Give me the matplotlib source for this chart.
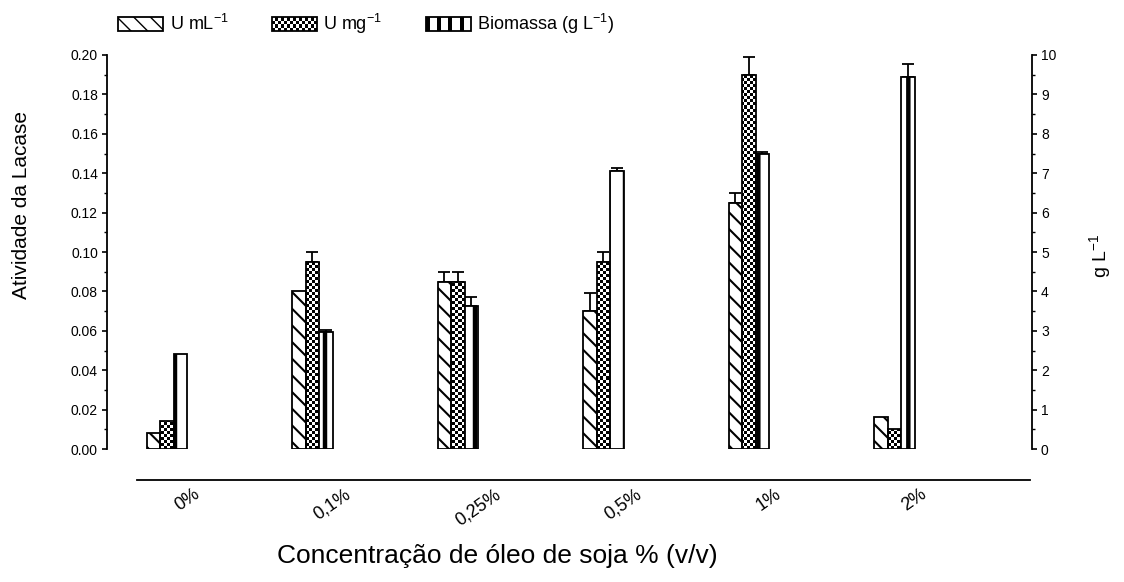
import numpy as np
import matplotlib
matplotlib.use("Agg")
import matplotlib.pyplot as plt
import matplotlib.transforms as mtransforms
from matplotlib.patches import Rectangle
from matplotlib.legend_handler import HandlerBase

plt.rcParams["font.family"] = ["Liberation Sans", "DejaVu Sans"]
plt.rcParams["mathtext.fontset"] = "custom"
plt.rcParams["mathtext.rm"] = "Liberation Sans"
plt.rcParams["mathtext.it"] = "Liberation Sans:italic"
plt.rcParams["mathtext.bf"] = "Liberation Sans:bold"

# ---- data -------------------------------------------------------------
categories = ["0%", "0,1%", "0,25%", "0,5%", "1%", "2%"]
u_ml = [0.008, 0.080, 0.085, 0.070, 0.125, 0.016]
u_ml_err = [0.0, 0.0, 0.005, 0.009, 0.005, 0.0]
u_mg = [0.014, 0.095, 0.085, 0.095, 0.190, 0.010]
u_mg_err = [0.0, 0.005, 0.005, 0.005, 0.009, 0.0]
biomass = [2.40, 2.97, 3.62, 7.05, 7.50, 9.45]
biomass_err = [0.0, 0.05, 0.25, 0.08, 0.05, 0.33]

series_labels = ["U mL$^{-1}$", "U mg$^{-1}$", "Biomassa (g L$^{-1}$)"]

# ---- figure -----------------------------------------------------------
fig = plt.figure(figsize=(11.24, 5.82), dpi=100)
ax = fig.add_axes([0.0952, 0.2285, 0.8229, 0.677])
ax2 = ax.twinx()

x = np.arange(len(categories))
w = 0.093
xlim = (-0.412, 5.945)
ylim = (0.0, 0.20)
ylim2 = (0.0, 10.0)
edge_lw = 1.3
diag_hatch = "\\\\"
stripe_hatch = "|"


def upper_err(axis, xs, ys, errs):
    xs = np.asarray(xs, float)
    ys = np.asarray(ys, float)
    errs = np.asarray(errs, float)
    m = errs > 0
    axis.errorbar(xs[m], ys[m], yerr=[np.zeros(m.sum()), errs[m]], fmt="none",
                  ecolor="black", elinewidth=1.3, capsize=4, capthick=1.3, zorder=1)


# U mL-1 : diagonal hatch
with plt.rc_context({"hatch.linewidth": 1.5}):
    b1 = ax.bar(x - w, u_ml, w, facecolor="white", edgecolor="black",
                linewidth=edge_lw, hatch=diag_hatch, zorder=2)
upper_err(ax, x - w, u_ml, u_ml_err)

# U mg-1 : checkerboard fill clipped to each bar
b2 = ax.bar(x, u_mg, w, facecolor="none", edgecolor="black",
            linewidth=edge_lw, zorder=2)
nx, ny = 308, 131
checker = np.indices((ny, nx)).sum(axis=0) % 2
for rect in b2:
    im = ax.imshow(checker, cmap="gray_r", extent=(*xlim, *ylim), aspect="auto",
                   interpolation="nearest", origin="lower", zorder=1.5)
    im.set_clip_path(rect)
upper_err(ax, x, u_mg, u_mg_err)

# Biomass : thick vertical stripes, on the secondary axis
with plt.rc_context({"hatch.linewidth": 3.2}):
    b3 = ax2.bar(x + w, biomass, w, facecolor="white", edgecolor="black",
                 linewidth=edge_lw, hatch=stripe_hatch, zorder=2)
upper_err(ax2, x + w, biomass, biomass_err)

# ---- axes styling -----------------------------------------------------
ax.set_xlim(*xlim)
ax.set_ylim(*ylim)
ax2.set_ylim(*ylim2)

for s in ["top", "right"]:
    ax.spines[s].set_visible(False)
for s in ["top", "left", "bottom"]:
    ax2.spines[s].set_visible(False)
for a in (ax, ax2):
    for s in a.spines.values():
        s.set_linewidth(1.3)

ax.spines["bottom"].set_position(("outward", 22.5))
ax.spines["bottom"].set_bounds(-0.206, 5.93)

ax.set_yticks(np.arange(0, 0.201, 0.02))
ax.set_yticks(np.arange(0, 0.201, 0.01), minor=True)
ax.yaxis.set_major_formatter(matplotlib.ticker.FormatStrFormatter("%.2f"))
ax2.set_yticks(np.arange(0, 10.1, 1))
ax2.set_yticks(np.arange(0, 10.1, 0.5), minor=True)

for a in (ax, ax2):
    a.tick_params(axis="y", which="major", direction="out", length=3.5, width=1.2,
                  labelsize=10, pad=3)
    a.tick_params(axis="y", which="minor", direction="out", length=2, width=1.0)

ax.set_xticks(x)
ax.set_xticklabels(categories, rotation=35, ha="center", fontsize=13)
ax.tick_params(axis="x", length=0, pad=4)
offset = mtransforms.ScaledTranslation(20 / 100, 0, fig.dpi_scale_trans)
for lbl in ax.get_xticklabels():
    lbl.set_transform(lbl.get_transform() + offset)

fig.text(22 / 1124, 1 - 205 / 582, "Atividade da Lacase", rotation=90,
         ha="center", va="center", fontsize=15)
fig.text(1100 / 1124, 1 - 256 / 582, "g L$^{-1}$", rotation=90,
         ha="center", va="center", fontsize=14)
fig.text(497 / 1124, 1 - 556 / 582, "Concentração de óleo de soja % (v/v)",
         ha="center", va="center", fontsize=19)


# ---- legend -----------------------------------------------------------
class CheckerHandler(HandlerBase):
    def create_artists(self, legend, orig_handle, xdescent, ydescent, width,
                       height, fontsize, trans):
        arts = []
        ncol, nrow = 15, 4
        cw, ch = width / ncol, height / nrow
        for i in range(ncol):
            for j in range(nrow):
                if (i + j) % 2 == 0:
                    arts.append(Rectangle((-xdescent + i * cw, -ydescent + j * ch), cw, ch,
                                          facecolor="black", edgecolor="none",
                                          transform=trans))
        arts.append(Rectangle((-xdescent, -ydescent), width, height, facecolor="none",
                              edgecolor="black", linewidth=edge_lw, transform=trans))
        return arts


class StripeHandler(HandlerBase):
    def create_artists(self, legend, orig_handle, xdescent, ydescent, width,
                       height, fontsize, trans):
        arts = []
        nstripe = 4
        pitch = width / nstripe
        for i in range(nstripe):
            arts.append(Rectangle((-xdescent + i * pitch, -ydescent), pitch * 0.35, height,
                                  facecolor="black", edgecolor="none", transform=trans))
        arts.append(Rectangle((-xdescent, -ydescent), width, height, facecolor="none",
                              edgecolor="black", linewidth=edge_lw, transform=trans))
        return arts


with plt.rc_context({"hatch.linewidth": 1.5}):
    h1 = Rectangle((0, 0), 1, 1, facecolor="white", edgecolor="black",
                   linewidth=edge_lw, hatch=diag_hatch)
h2 = Rectangle((0, 0), 1, 1, facecolor="white", edgecolor="black")
h3 = Rectangle((0, 0), 1, 1, facecolor="white", edgecolor="black")

fig.legend([h1, h2, h3], series_labels, loc="upper left",
           bbox_to_anchor=(102 / 1124, 1 + 4 / 582), ncol=3, frameon=False,
           fontsize=13, handlelength=2.5, handleheight=0.8, handletextpad=0.35,
           columnspacing=2.4,
           handler_map={h2: CheckerHandler(), h3: StripeHandler()})

fig.savefig("out.png", dpi=100)
